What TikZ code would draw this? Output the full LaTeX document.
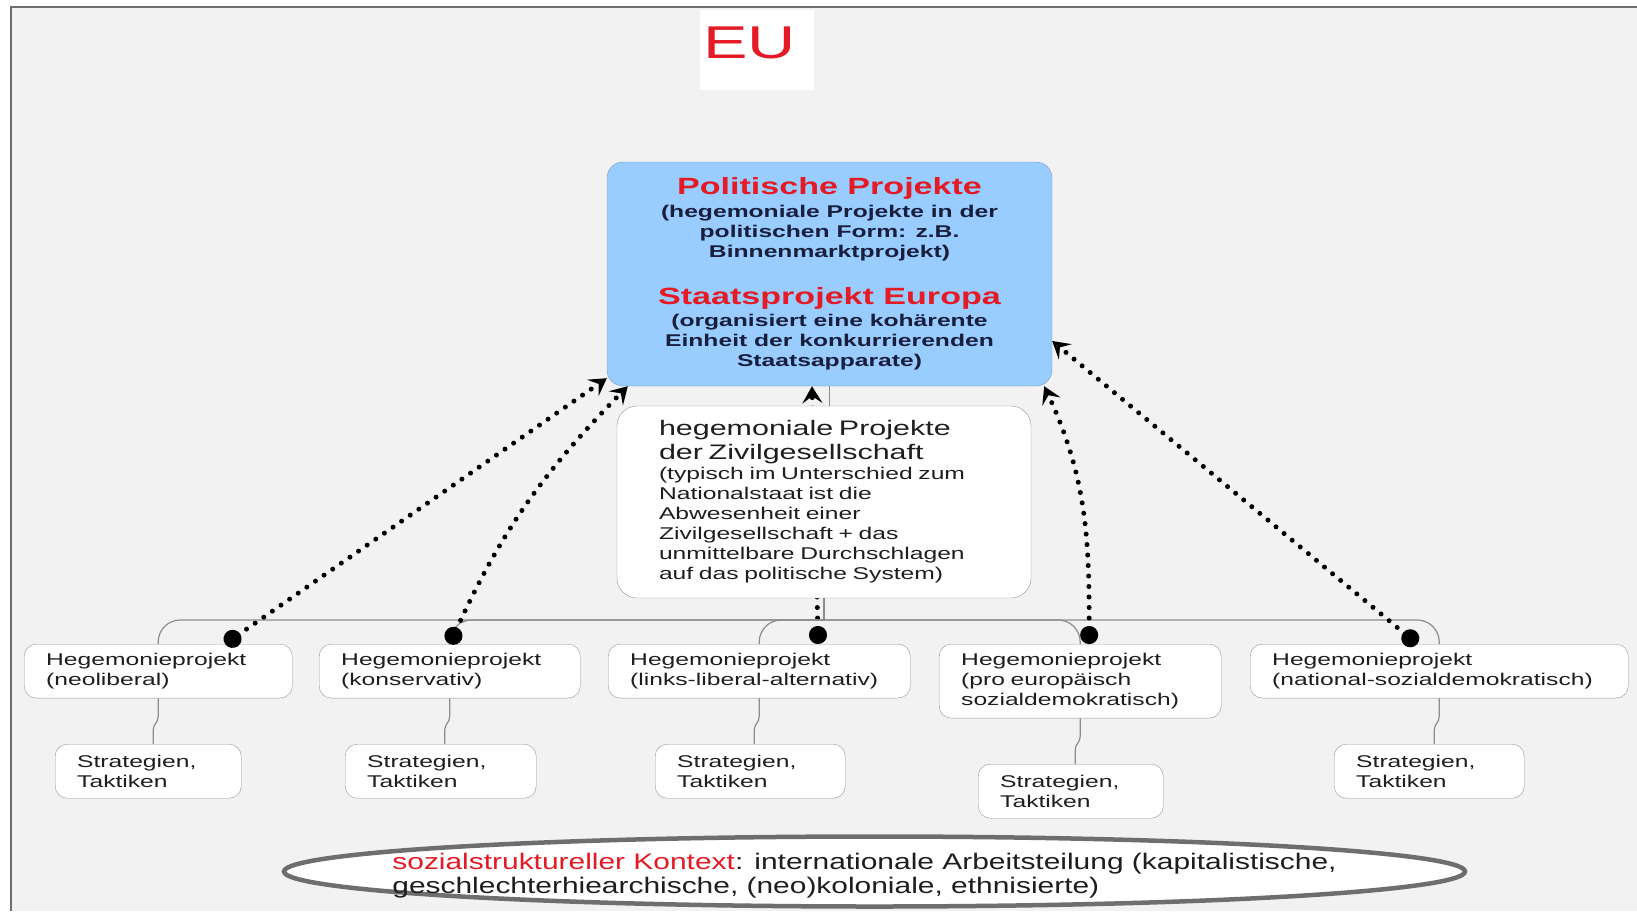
\documentclass[tikz,border=0pt]{standalone}
\usepackage{fontspec}
\setmainfont{Liberation Sans}
\newfontfamily\boxfont[FakeStretch=1.45]{Liberation Sans}
\newfontfamily\kontextfont[FakeStretch=1.33]{Liberation Sans}
\usetikzlibrary{arrows.meta,shapes.geometric,positioning}

\definecolor{eured}{RGB}{228,26,36}
\definecolor{bgcol}{RGB}{242,242,242}
\definecolor{framecol}{RGB}{110,110,110}
\definecolor{bluefill}{RGB}{153,204,255}
\definecolor{blueline}{RGB}{120,150,190}
\definecolor{boxline}{RGB}{150,150,150}
\definecolor{linkgray}{RGB}{140,140,140}
\definecolor{textdark}{RGB}{30,30,30}
\definecolor{navy}{RGB}{25,30,60}
\definecolor{ringgray}{RGB}{110,110,110}

\begin{document}
\begin{tikzpicture}[x=1pt,y=1pt,
    hbox/.style={draw=boxline,fill=white,rounded corners=12,anchor=north west,
                 align=left,inner xsep=22,inner ysep=9,minimum height=53,
                 font=\boxfont\fontsize{17}{20}\selectfont,text=textdark},
    sbox/.style={hbox,minimum height=54},
    pbox/.style={draw=blueline,fill=bluefill,rounded corners=16,
                 minimum width=445,minimum height=224,align=center,
                 font=\boxfont\bfseries\fontsize{17}{20}\selectfont,text=navy},
    zbox/.style={draw=boxline,fill=white,rounded corners=20,minimum width=414,
                 minimum height=192,text width=330,inner xsep=42,align=left,
                 font=\boxfont\fontsize{17}{20}\selectfont,text=textdark},
    eubox/.style={fill=white,anchor=north west,inner ysep=0,inner xsep=3,
                  text width=108,align=left,text height=48,text depth=32,
                  font=\boxfont\fontsize{46}{46}\selectfont,text=eured},
    ring/.style={ellipse,draw=ringgray,line width=4.5,fill=white,
                 minimum width=1181,minimum height=70,inner sep=0},
    link/.style={draw=linkgray,line width=1.2},
    flow/.style={line width=5,dash pattern=on 0pt off 10.5pt,line cap=round,
                 arrows={Circle[length=18pt]-Stealth[length=17pt,width=20pt,inset=7pt]}}]
    \useasboundingbox (0,0) rectangle (1637,-911);
    % background sheet
    \fill[bgcol] (11,-7) rectangle (1637,-911);
    \draw[framecol,line width=1.5] (11,-911) -- (11,-7) -- (1637,-7);

    \node[eubox] (eu) at (700,-10) {EU};

    \node[pbox] (politik) at (829.5,-274) {%
        {\color{eured}\fontsize{23.5}{24}\selectfont Politische Projekte}\\[2.5pt]
        (hegemoniale Projekte in der\\
        politischen Form: z.B.\\
        Binnenmarktprojekt)\\[26pt]
        {\color{eured}\fontsize{23.5}{24}\selectfont Staatsprojekt Europa}\\[1.6pt]
        (organisiert eine kohärente\\
        Einheit der konkurrierenden\\
        Staatsapparate)};

    % hegemonieprojekte
    \node[hbox,text width=224] (hp1) at (24,-644) {Hegemonieprojekt\\(neoliberal)};
    \node[hbox,text width=217] (hp2) at (319,-644) {Hegemonieprojekt\\(konservativ)};
    \node[hbox,text width=258] (hp3) at (608,-644) {Hegemonieprojekt\\(links-liberal-alternativ)};
    \node[hbox,text width=238] (hp4) at (939,-644) {Hegemonieprojekt\\(pro europäisch\\sozialdemokratisch)};
    \node[hbox,text width=334] (hp5) at (1250,-644) {Hegemonieprojekt\\(national-sozialdemokratisch)};

    % strategien
    \node[sbox,text width=142] (s1) at (55,-744) {Strategien,\\Taktiken};
    \node[sbox,text width=147] (s2) at (345,-744) {Strategien,\\Taktiken};
    \node[sbox,text width=146] (s3) at (655,-744) {Strategien,\\Taktiken};
    \node[sbox,text width=141] (s4) at (978,-764) {Strategien,\\Taktiken};
    \node[sbox,text width=146] (s5) at (1334,-744) {Strategien,\\Taktiken};

    % runs behind the civil society box
    \draw[flow] ([xshift=59]hp3.north) -- ([xshift=-17.5]politik.south);

    \node[zbox] (zivil) at (824,-502) {%
        {\fontsize{21}{24}\selectfont hegemoniale Projekte\\der Zivilgesellschaft\par}
        (typisch im Unterschied zum\\
        Nationalstaat ist die\\
        Abwesenheit einer\\
        Zivilgesellschaft + das\\
        unmittelbare Durchschlagen\\
        auf das politische System)};

    \draw[link] (politik.south) -- (politik.south |- zivil.north);
    \coordinate (bus) at (824,-620);
    \draw[link] (zivil.south) -- (bus);
    \foreach \h in {hp1,hp2,hp3,hp4,hp5}
        \draw[link,rounded corners=22] (bus) -| (\h.north);
    \foreach \i in {1,...,5}
        \draw[link] (hp\i.south) -- ++(0,-18) .. controls +(0,-7) and +(0,7) .. ++(-5,-14)
            -- ([xshift=-5]hp\i.south |- s\i.north);

    \draw[flow] ([xshift=67]hp1.north) -- ([yshift=8]politik.south west);
    \draw[flow] (hp2.north) to[bend left=10] ([xshift=21]politik.south west);
    \draw[flow] ([xshift=9]hp4.north) to[out=90,in=-65] ([xshift=-8]politik.south east);
    \draw[flow] ([xshift=-22]hp5.north) -- ([yshift=-67]politik.east);

    \node[ring] (kontext) at (874.5,-871.5) {};
    \node[align=left,font=\kontextfont\fontsize{22.5}{24}\selectfont,text=textdark]
        (kontexttext) at ([xshift=-10,yshift=-4]kontext.center)
        {{\color{eured}sozialstruktureller Kontext}: internationale Arbeitsteilung (kapitalistische,\\
         geschlechterhiearchische, (neo)koloniale, ethnisierte)};
\end{tikzpicture}
\end{document}
